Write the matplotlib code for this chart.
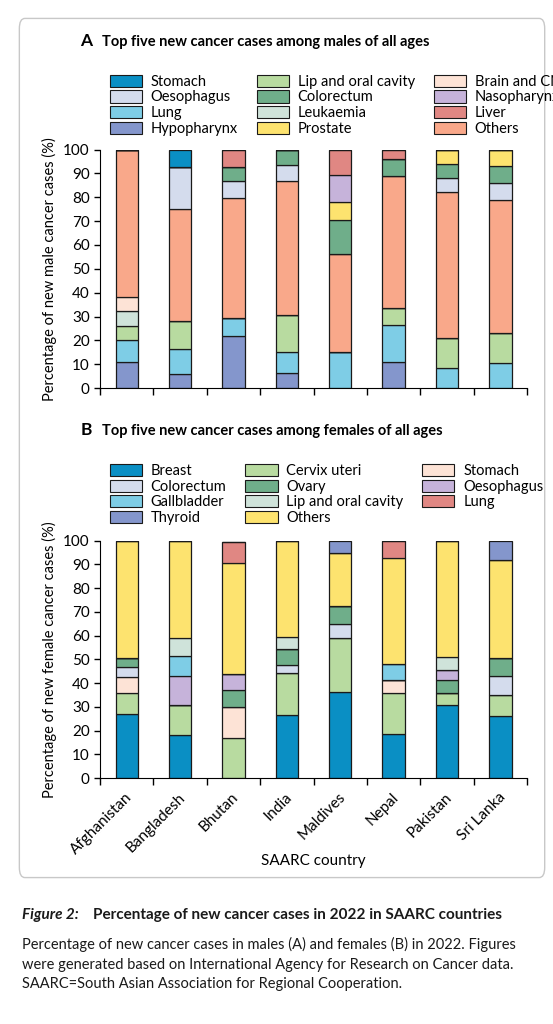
import numpy as np
import matplotlib.pyplot as plt
from matplotlib.patches import Patch, FancyBboxPatch

countries = ["Afghanistan", "Bangladesh", "Bhutan", "India", "Maldives", "Nepal", "Pakistan", "Sri Lanka"]

# males, in stacking order (bottom to top)
male_types = ["Hypopharynx", "Lung", "Lip and oral cavity", "Leukaemia", "Brain and CNS", "Others",
              "Oesophagus", "Colorectum", "Prostate", "Nasopharynx", "Liver", "Stomach"]
male_vals = {
    "Hypopharynx":         [11, 6, 22, 6.5, 0, 11, 0, 0],
    "Lung":                [9, 10.5, 7.5, 8.5, 15, 15.5, 8.5, 10.5],
    "Lip and oral cavity": [6, 11.5, 0, 15.5, 0, 7, 12.5, 12.5],
    "Leukaemia":           [6.5, 0, 0, 0, 0, 0, 0, 0],
    "Brain and CNS":       [5.5, 0, 0, 0, 0, 0, 0, 0],
    "Others":              [62, 47, 50, 56.5, 41, 55.5, 61, 56],
    "Oesophagus":          [0, 17.5, 7.5, 6.5, 0, 0, 6, 7],
    "Colorectum":          [0, 0, 5.5, 6.5, 14.5, 7, 6, 7],
    "Prostate":            [0, 0, 0, 0, 7.5, 0, 6, 7],
    "Nasopharynx":         [0, 0, 0, 0, 11.5, 0, 0, 0],
    "Liver":               [0, 0, 7.5, 0, 10.5, 4, 0, 0],
    "Stomach":             [0, 7.5, 0, 0, 0, 0, 0, 0],
}
male_legend = ["Stomach", "Oesophagus", "Lung", "Hypopharynx",
               "Lip and oral cavity", "Colorectum", "Leukaemia", "Prostate",
               "Brain and CNS", "Nasopharynx", "Liver", "Others"]

female_types = ["Breast", "Cervix uteri", "Stomach", "Colorectum", "Ovary", "Oesophagus",
                "Gallbladder", "Lip and oral cavity", "Others", "Lung", "Thyroid"]
female_vals = {
    "Breast":              [27, 18, 0, 26.5, 36.5, 18.5, 31, 26],
    "Cervix uteri":        [9, 13, 17, 18, 22.5, 17.5, 5, 9],
    "Stomach":             [6.5, 0, 13, 0, 0, 5.5, 0, 0],
    "Colorectum":          [4.5, 0, 0, 3, 6, 0, 0, 8],
    "Ovary":               [3.5, 0, 7, 7, 7.5, 0, 5.5, 7.5],
    "Oesophagus":          [0, 12, 7, 0, 0, 0, 4, 0],
    "Gallbladder":         [0, 8.5, 0, 0, 0, 6.5, 0, 0],
    "Lip and oral cavity": [0, 7.5, 0, 5, 0, 0, 5.5, 0],
    "Others":              [49.5, 41, 46.5, 40.5, 22.5, 44.5, 49, 41.5],
    "Lung":                [0, 0, 9, 0, 0, 7.5, 0, 0],
    "Thyroid":             [0, 0, 0, 0, 5, 0, 0, 8],
}
female_legend = ["Breast", "Colorectum", "Gallbladder", "Thyroid",
                 "Cervix uteri", "Ovary", "Lip and oral cavity", "Others",
                 "Stomach", "Oesophagus", "Lung"]

male_colors = {"Stomach": "#0a8fc4", "Oesophagus": "#d4dced", "Lung": "#7ecde6", "Hypopharynx": "#8496cc",
               "Lip and oral cavity": "#b8dba0", "Colorectum": "#6fae8a", "Leukaemia": "#cfe3da",
               "Prostate": "#fde36f", "Brain and CNS": "#fde3d6", "Nasopharynx": "#c6b3da",
               "Liver": "#e08783", "Others": "#f9a88a"}
female_colors = {"Breast": "#0a8fc4", "Cervix uteri": "#b8dba0", "Stomach": "#fde3d6", "Colorectum": "#d4dced",
                 "Ovary": "#6fae8a", "Oesophagus": "#c6b3da", "Gallbladder": "#7ecde6",
                 "Lip and oral cavity": "#cfe3da", "Lung": "#e08783", "Thyroid": "#8496cc", "Others": "#fde36f"}

plt.rcParams['font.family'] = ['Lato', 'DejaVu Sans']
fig = plt.figure(figsize=(5.53, 10.24), dpi=100)

# grey frame
fig.patches.append(FancyBboxPatch((0.035, 0.143), 0.95, 0.839, boxstyle="round,pad=0,rounding_size=0.01",
                                  transform=fig.transFigure, fill=False, edgecolor="#c8c8c8", linewidth=1))


def panel(rect, types, vals, colors, legend_order, letter, title, ylabel, legend_y):
    ax = fig.add_axes(rect)
    x = np.arange(len(countries))
    bottom = np.zeros(len(countries))
    for t in types:
        v = np.array(vals[t], dtype=float)
        ax.bar(x, v, 0.42, bottom=bottom, color=colors[t], edgecolor="#1a1a1a", linewidth=0.9)
        bottom += v
    ax.set_ylim(0, 100)
    ax.set_xlim(-0.5, len(countries) - 0.5)
    ax.set_yticks(range(0, 101, 10))
    ax.set_xticks(np.arange(len(countries) + 1) - 0.5)
    ax.set_xticklabels([])
    ax.tick_params(axis="x", direction="out", length=5, width=1)
    ax.tick_params(axis="y", direction="out", length=4, width=1, labelsize=11)
    for s in ["top", "right"]:
        ax.spines[s].set_visible(False)
    ax.set_ylabel(ylabel, fontsize=10.5)
    handles = [Patch(facecolor=colors[t], edgecolor="#1a1a1a", linewidth=0.8, label=t) for t in legend_order]
    fig.legend(handles=handles, loc="upper left", bbox_to_anchor=(0.175, legend_y), ncol=3, frameon=False,
               fontsize=10.5, handlelength=2.2, handleheight=0.9, columnspacing=1.3, labelspacing=0.12,
               handletextpad=0.6)
    fig.text(0.145, legend_y + 0.012, letter, fontsize=12.5, fontweight="bold", va="bottom")
    fig.text(0.185, legend_y + 0.012, title, fontsize=10.5, fontweight="bold", va="bottom")
    return ax


panel([0.181, 0.621, 0.772, 0.233], male_types, male_vals, male_colors, male_legend,
      "A", "Top five new cancer cases among males of all ages",
      "Percentage of new male cancer cases (%)", 0.940)
axb = panel([0.181, 0.240, 0.772, 0.232], female_types, female_vals, female_colors, female_legend,
            "B", "Top five new cancer cases among females of all ages",
            "Percentage of new female cancer cases (%)", 0.560)
for i, c in enumerate(countries):
    axb.text(i + 0.15, -5, c, rotation=45, ha="right", va="top", fontsize=11,
             transform=axb.transData)
fig.text(0.567, 0.155, "SAARC country", ha="center", fontsize=11)

fig.text(0.04, 0.103, "Figure 2:", fontsize=11, fontweight="bold", style="italic", color="#1a1a1a")
fig.text(0.168, 0.103, "Percentage of new cancer cases in 2022 in SAARC countries",
         fontsize=11, fontweight="bold", color="#1a1a1a")
fig.text(0.04, 0.035,
         "Percentage of new cancer cases in males (A) and females (B) in 2022. Figures\n"
         "were generated based on International Agency for Research on Cancer data.\n"
         "SAARC=South Asian Association for Regional Cooperation.",
         fontsize=10.5, linespacing=1.5, color="#1a1a1a")

fig.savefig("out.png", dpi=100)
